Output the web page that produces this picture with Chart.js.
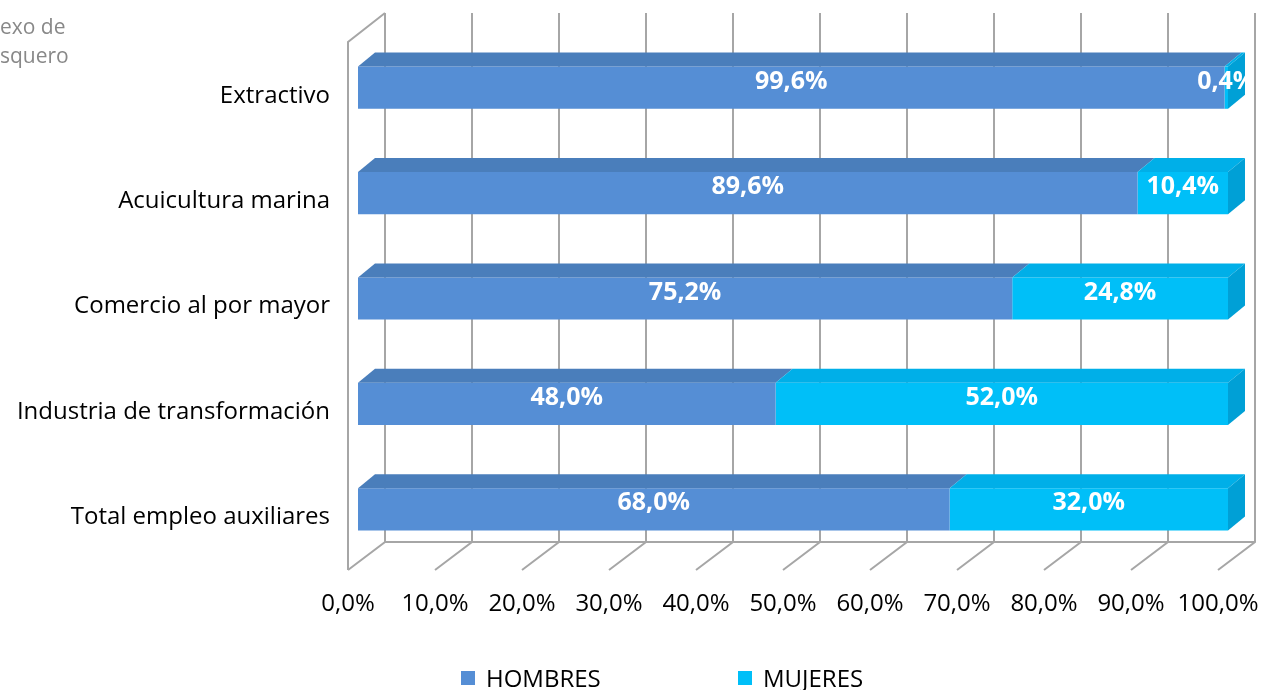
<!DOCTYPE html>
<html>
<head>
<meta charset="utf-8">
<script src="https://cdn.jsdelivr.net/npm/chart.js@4.4.1/dist/chart.umd.min.js"></script>
<style>
  body { margin: 0; background: #fff; }
  #wrap { position: relative; width: 1265px; height: 690px; overflow: hidden; }
  #title { position: absolute; left: 0; top: 12px; font: 21px "Open Sans", sans-serif; color: #888; line-height: 29px; }
  #legend { position: absolute; left: 0; top: 664px; width: 1265px; height: 28px; font: 24px "Open Sans", sans-serif; color: #000; }
  .item { position: absolute; top: 0; white-space: nowrap; }
  .box { position: absolute; top: 7px; width: 14px; height: 14px; }
  .txt { position: absolute; left: 25px; top: 0; line-height: 28px; }
</style>
</head>
<body>
<div id="wrap">
  <canvas id="chart" width="1265" height="690"></canvas>
  <div id="title">exo de<br>squero</div>
  <div id="legend"></div>
</div>
<script>
const categories = ["Extractivo", "Acuicultura marina", "Comercio al por mayor", "Industria de transformación", "Total empleo auxiliares"]
const hombres = [99.6, 89.6, 75.2, 48.0, 68.0]
const mujeres = [0.4, 10.4, 24.8, 52.0, 32.0]
const seriesNames = ["HOMBRES", "MUJERES"]

const COLORS = {
  hombres: "#558ed5",
  hombresTop: "#4a7ebb",
  mujeres: "#00bff8",
  mujeresTop: "#00afe8",
  mujeresSide: "#00a0d6",
  grid: "#a6a6a6",
}

// depth offsets for the fake 3d look
const BAR_DX = 17, BAR_DY = -14
const WALL_BACK = 27, WALL_FRONT = -10

function pct(v) {
  return v.toFixed(1).replace(".", ",") + "%"
}

const fake3d = {
  id: "fake3d",
  beforeDatasetsDraw(chart) {
    const ctx = chart.ctx
    const xs = chart.scales.x
    const area = chart.chartArea
    const topY = area.top - 22
    const backBottom = area.bottom - 20
    const frontBottom = area.bottom + 8
    ctx.save()
    ctx.strokeStyle = COLORS.grid
    ctx.lineWidth = 2
    xs.ticks.forEach(t => {
      const p = xs.getPixelForValue(t.value)
      ctx.beginPath()
      ctx.moveTo(p + WALL_BACK, topY)
      ctx.lineTo(p + WALL_BACK, backBottom)
      ctx.lineTo(p + WALL_FRONT, frontBottom)
      ctx.stroke()
    })
    const p0 = xs.getPixelForValue(0)
    const p1 = xs.getPixelForValue(100)
    // floor back edge
    ctx.beginPath()
    ctx.moveTo(p0 + WALL_BACK, backBottom)
    ctx.lineTo(p1 + WALL_BACK, backBottom)
    ctx.stroke()
    // left wall
    ctx.beginPath()
    ctx.moveTo(p0 + WALL_FRONT, frontBottom)
    ctx.lineTo(p0 + WALL_FRONT, area.top + 7)
    ctx.lineTo(p0 + WALL_BACK, topY)
    ctx.stroke()
    ctx.restore()
  },
  afterDatasetsDraw(chart) {
    const ctx = chart.ctx
    const last = chart.data.datasets.length - 1
    ctx.save()
    chart.data.datasets.forEach((ds, di) => {
      const meta = chart.getDatasetMeta(di)
      meta.data.forEach(bar => {
        const left = Math.min(bar.x, bar.base)
        const right = Math.max(bar.x, bar.base)
        const top = bar.y - bar.height / 2
        const bottom = bar.y + bar.height / 2
        ctx.fillStyle = ds.topColor
        ctx.beginPath()
        ctx.moveTo(left, top)
        ctx.lineTo(left + BAR_DX, top + BAR_DY)
        ctx.lineTo(right + BAR_DX, top + BAR_DY)
        ctx.lineTo(right, top)
        ctx.closePath()
        ctx.fill()
        if (di === last) {
          ctx.fillStyle = ds.sideColor
          ctx.beginPath()
          ctx.moveTo(right, top)
          ctx.lineTo(right + BAR_DX, top + BAR_DY)
          ctx.lineTo(right + BAR_DX, bottom + BAR_DY)
          ctx.lineTo(right, bottom)
          ctx.closePath()
          ctx.fill()
        }
      })
    })
    // value labels
    const area = chart.chartArea
    ctx.beginPath()
    ctx.rect(0, 0, area.right + 19, chart.height)
    ctx.clip()
    ctx.fillStyle = "#fff"
    ctx.font = "bold 25px 'Open Sans', sans-serif"
    ctx.textAlign = "center"
    ctx.textBaseline = "middle"
    chart.data.datasets.forEach((ds, di) => {
      const meta = chart.getDatasetMeta(di)
      meta.data.forEach((bar, i) => {
        ctx.fillText(pct(ds.data[i]), (bar.x + bar.base) / 2, bar.y + BAR_DY / 2 + 1)
      })
    })
    ctx.restore()
  },
}

const data = {
  labels: categories,
  datasets: [
    {
      label: seriesNames[0],
      data: hombres,
      backgroundColor: COLORS.hombres,
      topColor: COLORS.hombresTop,
      sideColor: COLORS.hombresTop,
    },
    {
      label: seriesNames[1],
      data: mujeres,
      backgroundColor: COLORS.mujeres,
      topColor: COLORS.mujeresTop,
      sideColor: COLORS.mujeresSide,
    },
  ],
}

const config = {
  type: "bar",
  data: data,
  plugins: [fake3d],
  options: {
    indexAxis: "y",
    responsive: false,
    animation: false,
    barPercentage: 0.4,
    categoryPercentage: 1,
    layout: { padding: { top: 35, right: 37, left: 0, bottom: 0 } },
    plugins: {
      legend: { display: false },
      tooltip: { enabled: false },
    },
    scales: {
      x: {
        stacked: true,
        min: 0,
        max: 100,
        grid: { display: false },
        border: { display: false },
        ticks: {
          stepSize: 10,
          padding: 20,
          labelOffset: -10,
          color: "#000",
          font: { family: "Open Sans", size: 24 },
          maxRotation: 0,
          autoSkip: false,
          callback: v => pct(v),
        },
        afterFit: s => {
          s.height = 128
          s.paddingLeft = 0
          s.paddingRight = 0
        },
      },
      y: {
        stacked: true,
        grid: { display: false },
        border: { display: false },
        ticks: {
          padding: 20,
          labelOffset: 8,
          color: "#000",
          font: { family: "Open Sans", size: 24 },
        },
        afterFit: s => {
          s.width = 358
          s.paddingTop = 0
          s.paddingBottom = 0
        },
      },
    },
  },
}

const chart = new Chart(document.getElementById("chart"), config)

// html legend built from the datasets
const legendX = [461, 738]
const legend = document.getElementById("legend")
chart.data.datasets.forEach((ds, i) => {
  const item = document.createElement("div")
  item.className = "item"
  item.style.left = legendX[i] + "px"
  item.innerHTML = '<span class="box" style="background:' + ds.backgroundColor + '"></span><span class="txt">' + ds.label + "</span>"
  legend.appendChild(item)
})
</script>
</body>
</html>
